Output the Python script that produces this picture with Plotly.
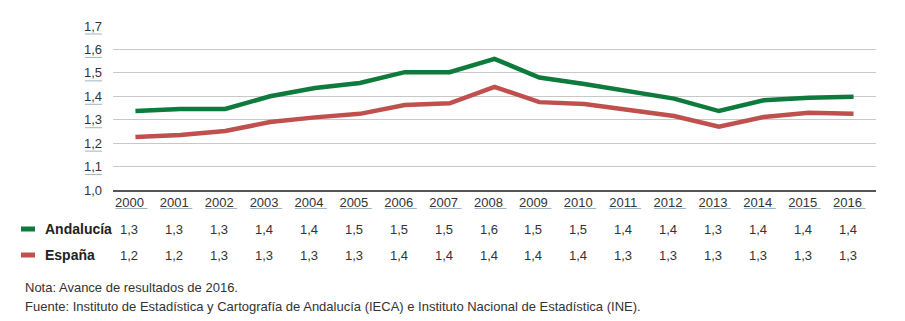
import plotly.graph_objects as go

years = [str(y) for y in range(2000, 2017)]
andalucia = [1.337, 1.346, 1.346, 1.40, 1.435, 1.457, 1.503, 1.503, 1.56, 1.48, 1.452, 1.42, 1.39, 1.337, 1.383, 1.394, 1.398]
espana = [1.226, 1.235, 1.252, 1.29, 1.31, 1.325, 1.363, 1.37, 1.44, 1.375, 1.367, 1.34, 1.316, 1.27, 1.312, 1.33, 1.325]
andalucia_tabla = ["1,3", "1,3", "1,3", "1,4", "1,4", "1,5", "1,5", "1,5", "1,6", "1,5", "1,5", "1,4", "1,4", "1,3", "1,4", "1,4", "1,4"]
espana_tabla = ["1,2", "1,2", "1,3", "1,3", "1,3", "1,3", "1,4", "1,4", "1,4", "1,4", "1,4", "1,3", "1,3", "1,3", "1,3", "1,3", "1,3"]
y_ticks = [1.0, 1.1, 1.2, 1.3, 1.4, 1.5, 1.6, 1.7]
y_ticktext = ["1,0", "1,1", "1,2", "1,3", "1,4", "1,5", "1,6", "1,7"]
series_names = ["Andalucía", "España"]
colors = ["#0e7a3c", "#c0504d"]
nota = "Nota: Avance de resultados de 2016."
fuente = "Fuente: Instituto de Estadística y Cartografía de Andalucía (IECA) e Instituto Nacional de Estadística (INE)."

W, H = 905, 321
L, R, T, B = 113, 29, 26, 131
PW = W - L - R
PH = H - T - B

def px_x(p):
    return (p - L) / PW

def px_y(p):
    return (T + PH - p) / PH

FONT = "Liberation Sans, Arial, sans-serif"
idx = list(range(len(years)))

fig = go.Figure()
for name, vals, col in zip(series_names, [andalucia, espana], colors):
    fig.add_trace(go.Scatter(x=idx, y=vals, mode="lines", name=name,
                             line=dict(color=col, width=4.5), hoverinfo="skip"))

shapes = []
annotations = []

# underline beneath y tick labels
for v in y_ticks:
    shapes.append(dict(type="line", xref="paper", yref="y", ysizemode="pixel", yanchor=v,
                       x0=px_x(85), x1=px_x(102), y0=-8, y1=-8,
                       line=dict(color="#9fb3c6", width=1)))
# underline beneath x tick labels
for i in idx:
    shapes.append(dict(type="line", xref="x", yref="paper", xsizemode="pixel", xanchor=i,
                       x0=-20, x1=12, y0=px_y(208.5), y1=px_y(208.5),
                       line=dict(color="#9fb3c6", width=1)))

# table rows
row_y = [229, 255]
for name, labels, col, ry in zip(series_names, [andalucia_tabla, espana_tabla], colors, row_y):
    shapes.append(dict(type="line", xref="paper", yref="paper",
                       x0=px_x(21), x1=px_x(35), y0=px_y(ry), y1=px_y(ry),
                       line=dict(color=col, width=5)))
    annotations.append(dict(x=px_x(43), y=px_y(ry), xref="paper", yref="paper",
                            text="<b>" + name + "</b>", showarrow=False,
                            xanchor="left", yanchor="middle",
                            font=dict(family=FONT, size=14, color="#222222")))
    for i, t in zip(idx, labels):
        annotations.append(dict(x=i, y=px_y(ry), xref="x", yref="paper", text=t,
                                showarrow=False, xanchor="center", yanchor="middle", xshift=-6,
                                font=dict(family=FONT, size=13, color="#333333")))

annotations.append(dict(x=px_x(23), y=px_y(287), xref="paper", yref="paper", text=nota,
                        showarrow=False, xanchor="left", yanchor="middle",
                        font=dict(family=FONT, size=13, color="#333333")))
annotations.append(dict(x=px_x(23), y=px_y(306), xref="paper", yref="paper", text=fuente,
                        showarrow=False, xanchor="left", yanchor="middle",
                        font=dict(family=FONT, size=13, color="#333333")))

fig.update_layout(
    width=W, height=H,
    margin=dict(l=L, r=R, t=T, b=B, autoexpand=False),
    paper_bgcolor="white", plot_bgcolor="white",
    showlegend=False,
    shapes=shapes, annotations=annotations,
    font=dict(family=FONT, size=13, color="#333333"),
    xaxis=dict(tickmode="array", tickvals=idx, ticktext=years, range=[-0.5, len(years) - 0.5],
               showgrid=False, zeroline=False, showline=True, linecolor="#555555", linewidth=1.5,
               ticks="", ticklabelshift=-6, ticklabelstandoff=0,
               tickfont=dict(family=FONT, size=13, color="#333333")),
    yaxis=dict(tickmode="array", tickvals=y_ticks, ticktext=y_ticktext, range=[1.0, 1.7],
               showgrid=True, gridcolor="#c8c8c8", gridwidth=1, zeroline=False,
               showline=False, ticks="", ticklabelstandoff=10,
               tickfont=dict(family=FONT, size=13, color="#333333")),
)
fig.write_html("out.html")
